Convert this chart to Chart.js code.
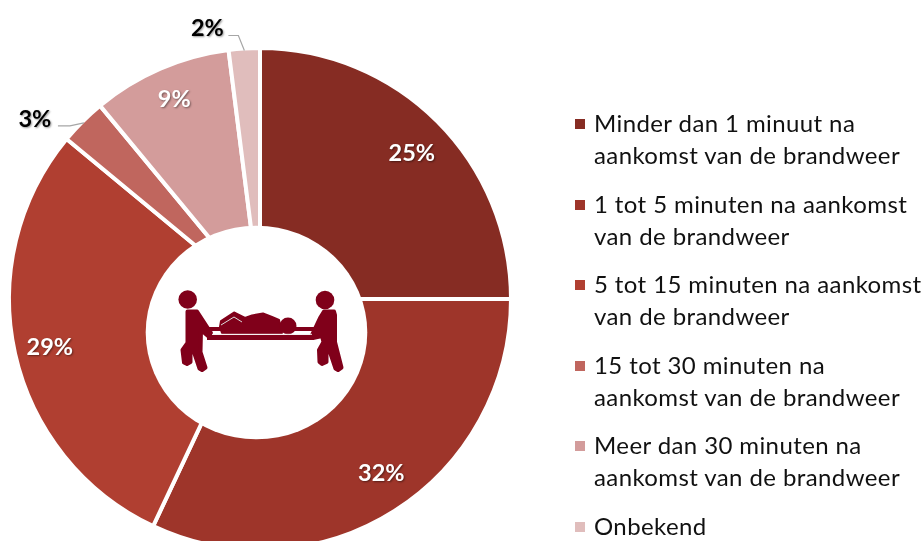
<!DOCTYPE html>
<html>
<head>
<meta charset="utf-8">
<script src="https://cdn.jsdelivr.net/npm/chart.js@4"></script>
<style>
  html, body { margin: 0; padding: 0; background: #fff; width: 924px; height: 541px; overflow: hidden; }
  #wrap { position: relative; width: 924px; height: 541px; overflow: hidden; }
  #pie { position: absolute; left: 0; top: 0; }
  #icon { position: absolute; left: 0; top: 0; pointer-events: none; }
  #legend { position: absolute; left: 575px; top: 107px; font-family: Lato, sans-serif; font-size: 24px; line-height: 32px; color: #111; letter-spacing: 0.4px; white-space: nowrap; }
  .item { position: relative; padding-left: 19px; height: 64px; margin-bottom: 16.6px; }
  .box { position: absolute; left: 0; top: 12px; width: 10px; height: 10px; }
</style>
</head>
<body>
<div id="wrap">
  <canvas id="pie" width="924" height="600"></canvas>
  <!-- white disc with the stretcher picture, sits on top of the pie -->
  <svg id="icon" width="924" height="541" fill="#80001a" stroke="none" stroke-linejoin="round">
    <ellipse cx="256.5" cy="332.5" rx="110.8" ry="106.8" fill="#fff"/>
    <circle cx="187.7" cy="299.5" r="9.3"/>
    <circle cx="325" cy="300" r="9.3"/>
    <path stroke="#80001a" stroke-width="4" d="M187.5 311.5 L197 311.5 L211 333 L208 336 L201 330 L200.5 352 L205.5 367.5 L202 370 L199.5 368.5 L193 349 L190.5 349 L190.5 362 L187 364 L184 362.5 L182.5 350 L187.5 343 Z"/>
    <path stroke="#80001a" stroke-width="4" d="M324 311.5 L334 311.5 L335 315 L335 342 L341.5 367.5 L338 370 L335.5 368.5 L329 349 L326.5 349 L326.5 362 L322 364 L319.5 362 L319 350 L323.5 342 L322 336 L313 338 L312 335 L320 318 Z"/>
    <path d="M207 335 H314 V340 H207 Z"/>
    <path d="M208 327 H224 V331 H208 Z"/>
    <path d="M279 327 H314 V331 H279 Z"/>
    <path stroke="#80001a" stroke-width="2" d="M221 321 L234 312.5 L245 318 L252 315.5 L263 313.5 L272 317 L279 320 L282 333 L222 333 L220 327 Z"/>
    <circle cx="288" cy="326" r="8.5"/>
    <path d="M221 325 L234 317 L242 322" fill="none" stroke="#dcdcdc" stroke-width="1"/>
    <path d="M212 334.3 H312" fill="none" stroke="#f4eeee" stroke-width="1"/>
  </svg>
  <div id="legend"></div>
</div>
<script>
var categories = [
  ["Minder dan 1 minuut na", "aankomst van de brandweer"],
  ["1 tot 5 minuten na aankomst", "van de brandweer"],
  ["5 tot 15 minuten na aankomst", "van de brandweer"],
  ["15 tot 30 minuten na", "aankomst van de brandweer"],
  ["Meer dan 30 minuten na", "aankomst van de brandweer"],
  ["Onbekend"]
];
var values = [25, 32, 29, 3, 9, 2];
var colors = ["#862c23", "#9e352a", "#b03f31", "#c0665e", "#d39c9b", "#e0bdbc"];

// the two small slices get their label outside, with a leader line
var outside = {
  3: { elbow: [-14, 3], end: [-26, 3], text: [-49, -4] },
  5: { elbow: [-6, -15], end: [-16, -15], text: [-37, -22] }
};
// small shifts for the labels that sit inside a slice
var nudge = { 0: [1, 5], 1: [7, -6], 2: [-2, 2], 4: [-1, -4] };

var legendEl = document.getElementById("legend");
categories.forEach(function (lines, i) {
  var item = document.createElement("div");
  item.className = "item";
  item.innerHTML = '<span class="box" style="background:' + colors[i] + '"></span>' + lines.join("<br>");
  legendEl.appendChild(item);
});

var pctLabels = {
  id: "pctLabels",
  afterDatasetsDraw: function (chart) {
    var ctx = chart.ctx;
    chart.getDatasetMeta(0).data.forEach(function (arc, i) {
      var mid = (arc.startAngle + arc.endAngle) / 2;
      var text = values[i] + "%";
      var out = outside[i];
      ctx.save();
      ctx.font = "bold 23.5px Lato, sans-serif";
      ctx.textAlign = "center";
      ctx.textBaseline = "middle";
      ctx.shadowBlur = 2;
      ctx.shadowOffsetX = 1;
      ctx.shadowOffsetY = 1;
      if (out) {
        var ex = arc.x + Math.cos(mid) * (arc.outerRadius - 2);
        var ey = arc.y + Math.sin(mid) * (arc.outerRadius - 2);
        ctx.save();
        ctx.shadowColor = "transparent";
        ctx.strokeStyle = "#a6a6a6";
        ctx.lineWidth = 1.2;
        ctx.beginPath();
        ctx.moveTo(ex, ey);
        ctx.lineTo(ex + out.elbow[0], ey + out.elbow[1]);
        ctx.lineTo(ex + out.end[0], ey + out.end[1]);
        ctx.stroke();
        ctx.restore();
        ctx.shadowColor = "rgba(0,0,0,0.4)";
        ctx.fillStyle = "#000";
        ctx.fillText(text, ex + out.text[0], ey + out.text[1]);
      } else {
        var r = arc.outerRadius * 0.85;
        ctx.shadowColor = "rgba(0,0,0,0.45)";
        ctx.fillStyle = "#fff";
        ctx.fillText(text, arc.x + Math.cos(mid) * r + nudge[i][0], arc.y + Math.sin(mid) * r + nudge[i][1]);
      }
      ctx.restore();
    });
  }
};

new Chart(document.getElementById("pie"), {
  type: "pie",
  data: {
    labels: categories.map(function (l) { return l.join(" "); }),
    datasets: [{ data: values, backgroundColor: colors, borderColor: "#fff", borderWidth: 4 }]
  },
  options: {
    responsive: false,
    animation: false,
    layout: { padding: { left: 7, top: 46, right: 411, bottom: 48 } },
    plugins: { legend: { display: false }, tooltip: { enabled: false } }
  },
  plugins: [pctLabels]
});
</script>
</body>
</html>
